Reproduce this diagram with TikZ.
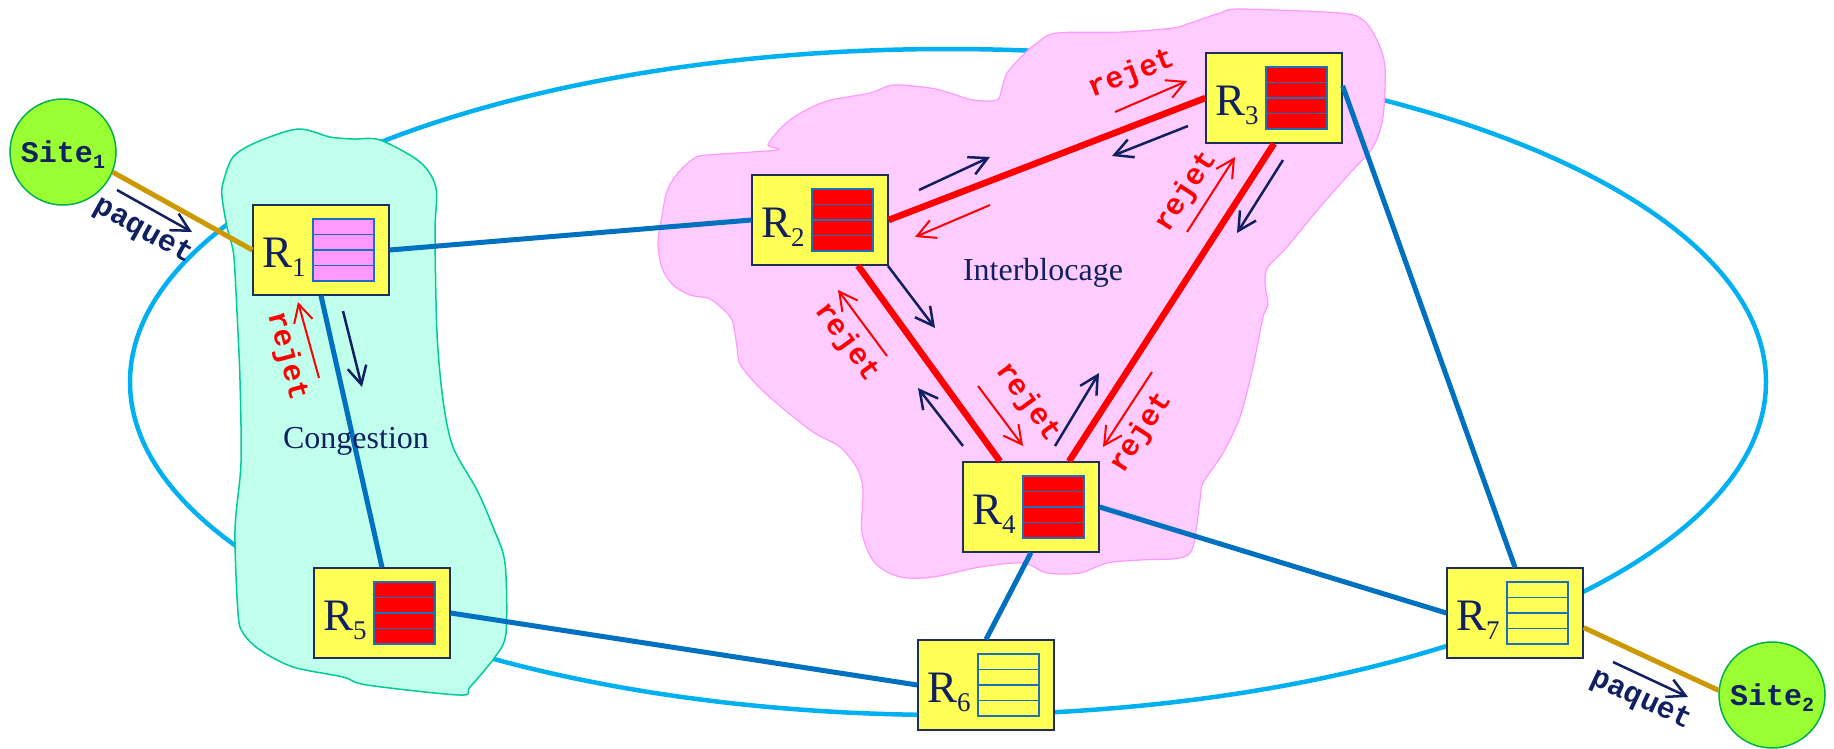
\documentclass[tikz,border=0pt]{standalone}
\usepackage{fontspec}
\setmainfont{Liberation Serif}
\setmonofont{Liberation Mono}
\usetikzlibrary{arrows.meta}

\definecolor{navy}{RGB}{16,32,96}
\definecolor{boxyellow}{RGB}{255,255,85}
\definecolor{boxline}{RGB}{31,46,90}
\definecolor{qblue}{RGB}{30,110,190}
\definecolor{qpink}{RGB}{255,153,255}
\definecolor{linkblue}{RGB}{0,112,192}
\definecolor{ringblue}{RGB}{0,176,240}
\definecolor{gold}{RGB}{204,153,0}
\definecolor{sitegreen}{RGB}{153,255,51}
\definecolor{siteline}{RGB}{0,176,80}
\definecolor{congfill}{RGB}{192,255,236}
\definecolor{congline}{RGB}{0,204,153}
\definecolor{blockfill}{RGB}{255,204,255}
\definecolor{blockline}{RGB}{255,153,255}

\newcommand{\rsub}[1]{\raisebox{-9pt}{\fontsize{27}{27}\selectfont #1}}
\newcommand{\ssub}[1]{\raisebox{-6pt}{\fontsize{20}{20}\selectfont #1}}

\begin{document}
\begin{tikzpicture}[x=1pt, y=-1pt,
    router/.style={draw=boxline, fill=boxyellow, line width=1.3pt, minimum width=136pt, minimum height=90pt,
        text width=118pt, inner xsep=9pt, inner ysep=0pt, align=left, text height=34pt, text depth=0pt,
        text=navy, font=\fontsize{45}{45}\selectfont},
    queue/.style={draw=qblue, line width=1.3pt, minimum width=61pt, minimum height=62pt, inner sep=0pt,
        path picture={\foreach \k in {1,2,3}
            \draw[qblue, line width=1.3pt] ([yshift=\k*15.5pt]path picture bounding box.south west)
                -- ([yshift=\k*15.5pt]path picture bounding box.south east);}},
    site/.style={circle, draw=siteline, fill=sitegreen, line width=1.5pt, minimum size=106pt, inner sep=0pt,
        text=navy, text height=20pt, text depth=0pt, font=\ttfamily\bfseries\fontsize{30}{30}\selectfont},
    ring/.style={draw=ringblue, line width=4.5pt},
    bluelink/.style={draw=linkblue, line width=5pt},
    redlink/.style={draw=red, line width=6.5pt},
    sitelink/.style={draw=gold, line width=5pt},
    pktarrow/.style={draw=navy, line width=2.5pt, -{Straight Barb[length=18pt,width=19pt]}},
    rejarrow/.style={draw=red, line width=2pt, -{Straight Barb[length=18pt,width=19pt]}},
    tagtext/.style={font=\ttfamily\bfseries\fontsize{30}{30}\selectfont, inner sep=0pt},
    zonetext/.style={text=navy, font=\fontsize{32}{32}\selectfont, inner sep=0pt}]

    \useasboundingbox (0,0) rectangle (1834,748);

    % anneau
    \draw[ring] (948,382) ellipse [x radius=818, y radius=333];

    % zones
    \filldraw[fill=congfill, draw=congline, line width=1.5pt] plot[smooth cycle, tension=0.5] coordinates {
        (298,129) (330,137) (353,139) (380,140) (420,162) (436,188) (435,233) (437,333) (443,400)
        (453,447) (477,490) (493,527) (505,563) (506,633) (495,657) (470,687) (460,695) (367,685)
        (343,677) (293,667) (260,650) (243,633) (238,613) (235,530) (241,463) (240,380) (238,333)
        (235,273) (233,250) (227,227) (222,197) (223,183) (233,157) (257,142)};
    \filldraw[fill=blockfill, draw=blockline, line width=1.2pt] plot[smooth cycle, tension=0.5] coordinates {
        (768,145) (780,129) (797,115) (827,101) (870,93) (893,85) (930,88) (950,93) (973,100) (997,100)
        (1002,88) (1007,73) (1023,55) (1037,43) (1057,33) (1123,32) (1173,28) (1190,23) (1220,13)
        (1240,9) (1340,13) (1363,20) (1377,40) (1385,67) (1383,117) (1373,147) (1350,173) (1320,207)
        (1287,247) (1268,267) (1265,283) (1268,305) (1263,317) (1253,367) (1240,417) (1223,453)
        (1203,483) (1200,500) (1193,547) (1180,558) (1140,560) (1107,563) (1080,573) (1047,573)
        (1023,563) (980,567) (933,577) (900,577) (875,563) (862,533) (863,490) (857,468) (840,447)
        (813,432) (780,406) (757,385) (740,364) (737,347) (733,323) (727,313) (710,299) (690,295)
        (673,285) (662,268) (658,243) (662,216) (667,191) (677,174) (693,159) (707,155) (777,150)};

    % routeurs
    \node[router] (R1) at (321,250) {R\rsub{1}};
    \node[router] (R2) at (820,220) {R\rsub{2}};
    \node[router] (R3) at (1274,98) {R\rsub{3}};
    \node[router] (R4) at (1031,507) {R\rsub{4}};
    \node[router] (R5) at (382,613) {R\rsub{5}};
    \node[router] (R6) at (986,685) {R\rsub{6}};
    \node[router] (R7) at (1515,613) {R\rsub{7}};

    \node[queue, fill=qpink] (q1) at ([xshift=22.5pt]R1.center) {};
    \node[queue, fill=red] (q2) at ([xshift=22.5pt]R2.center) {};
    \node[queue, fill=red] (q3) at ([xshift=22.5pt]R3.center) {};
    \node[queue, fill=red] (q4) at ([xshift=22.5pt]R4.center) {};
    \node[queue, fill=red] (q5) at ([xshift=22.5pt]R5.center) {};
    \node[queue, fill=boxyellow] (q6) at ([xshift=22.5pt]R6.center) {};
    \node[queue, fill=boxyellow] (q7) at ([xshift=22.5pt]R7.center) {};

    \node[site] (Site1) at (63,152) {Site\ssub{1}};
    \node[site] (Site2) at (1772,695) {Site\ssub{2}};

    % liaisons
    \draw[bluelink] (R1.east) -- (R2.west);
    \draw[bluelink] (R1.south) -- (R5.north);
    \draw[bluelink] (R5.east) -- (R6.west);
    \draw[bluelink] (R4.south) -- (R6.north);
    \draw[bluelink] (R4.east) -- (R7.west);
    \draw[bluelink] (R3.10) -- (R7.north);
    \draw[redlink] (R2.east) -- (R3.west);
    \draw[redlink] ([xshift=38pt]R2.south) -- ([xshift=-31pt]R4.north);
    \draw[redlink] (R3.south) -- ([xshift=38pt]R4.north);
    \draw[sitelink] (Site1.-22) -- (R1.west);
    \draw[sitelink] (R7.-12) -- (Site2.175);

    % fleches des paquets
    \coordinate (n1a) at (117,190);  \coordinate (n1b) at (192,232);
    \coordinate (n2a) at (343,311);  \coordinate (n2b) at (362,387);
    \coordinate (n3a) at (919,190);  \coordinate (n3b) at (990,157);
    \coordinate (n4a) at (1188,126); \coordinate (n4b) at (1112,156);
    \coordinate (n5a) at (888,266);  \coordinate (n5b) at (935,328);
    \coordinate (n6a) at (963,446);  \coordinate (n6b) at (918,388);
    \coordinate (n7a) at (1283,160); \coordinate (n7b) at (1237,233);
    \coordinate (n8a) at (1055,446); \coordinate (n8b) at (1099,373);
    \coordinate (n9a) at (1613,662); \coordinate (n9b) at (1688,697);

    \draw[pktarrow] (n1a) -- (n1b);
    \draw[pktarrow] (n2a) -- (n2b);
    \draw[pktarrow] (n3a) -- (n3b);
    \draw[pktarrow] (n4a) -- (n4b);
    \draw[pktarrow] (n5a) -- (n5b);
    \draw[pktarrow] (n6a) -- (n6b);
    \draw[pktarrow] (n7a) -- (n7b);
    \draw[pktarrow] (n8a) -- (n8b);
    \draw[pktarrow] (n9a) -- (n9b);

    % fleches de rejet
    \coordinate (r1a) at (319,378);  \coordinate (r1b) at (298,302);
    \coordinate (r2a) at (1115,112); \coordinate (r2b) at (1187,81);
    \coordinate (r3a) at (990,205);  \coordinate (r3b) at (915,237);
    \coordinate (r4a) at (887,356);  \coordinate (r4b) at (838,290);
    \coordinate (r5a) at (978,386);  \coordinate (r5b) at (1023,446);
    \coordinate (r6a) at (1187,232); \coordinate (r6b) at (1235,157);
    \coordinate (r7a) at (1152,372); \coordinate (r7b) at (1103,447);

    \draw[rejarrow] (r1a) -- (r1b);
    \draw[rejarrow] (r2a) -- (r2b);
    \draw[rejarrow] (r3a) -- (r3b);
    \draw[rejarrow] (r4a) -- (r4b);
    \draw[rejarrow] (r5a) -- (r5b);
    \draw[rejarrow] (r6a) -- (r6b);
    \draw[rejarrow] (r7a) -- (r7b);

    % textes
    \node[tagtext, text=navy, rotate=-29] (pkt1) at (143,231) {paquet};
    \node[tagtext, text=navy, rotate=-25] (pkt2) at (1641,700) {paquet};
    \node[tagtext, text=red, rotate=-75] (rej1) at (287,356) {rejet};
    \node[tagtext, text=red, rotate=21] (rej2) at (1132,74) {rejet};
    \node[tagtext, text=red, rotate=-54] (rej4) at (847,342) {rejet};
    \node[tagtext, text=red, rotate=-54] (rej5) at (1028,402) {rejet};
    \node[tagtext, text=red, rotate=57] (rej6) at (1186,192) {rejet};
    \node[tagtext, text=red, rotate=57] (rej7) at (1141,433) {rejet};

    \node[zonetext, anchor=base] (cong) at (356,448) {Congestion};
    \node[zonetext, anchor=base] (inter) at (1043,280) {Interblocage};

\end{tikzpicture}
\end{document}
